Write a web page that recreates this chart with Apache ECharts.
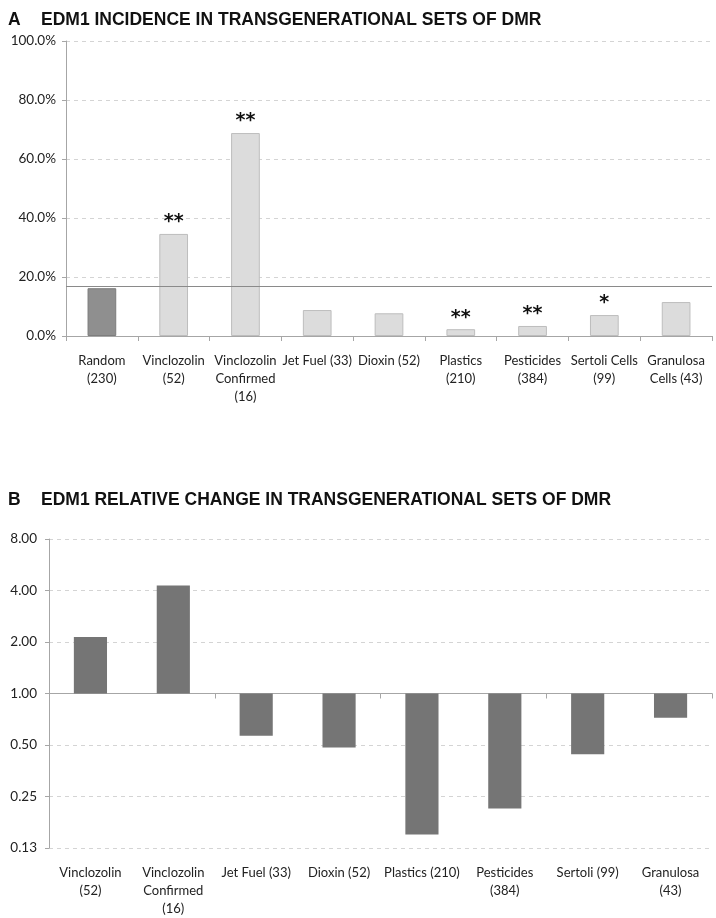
<!DOCTYPE html>
<html>
<head>
<meta charset="utf-8">
<script src="https://cdn.jsdelivr.net/npm/echarts@6/dist/echarts.min.js"></script>
<style>
html,body{margin:0;padding:0;background:#fff;}
#chart{width:716px;height:918px;}
</style>
</head>
<body>
<div id="chart"></div>
<script>
// ---- Panel A data ----
const catsA = ['Random\n(230)', 'Vinclozolin\n(52)', 'Vinclozolin\nConfirmed\n(16)', 'Jet Fuel (33)', 'Dioxin (52)', 'Plastics\n(210)', 'Pesticides\n(384)', 'Sertoli Cells\n(99)', 'Granulosa\nCells (43)'];
const incidenceA = [0.162, 0.346, 0.688, 0.088, 0.077, 0.023, 0.034, 0.071, 0.115];
const significanceA = ['', '**', '**', '', '', '**', '**', '*', ''];
const randomLevelA = 0.165;
const ticksA = [0, 0.2, 0.4, 0.6, 0.8, 1.0];

// ---- Panel B data ----
const catsB = ['Vinclozolin\n(52)', 'Vinclozolin\nConfirmed\n(16)', 'Jet Fuel (33)', 'Dioxin (52)', 'Plastics (210)', 'Pesticides\n(384)', 'Sertoli (99)', 'Granulosa\n(43)'];
const relChangeB = [2.14, 4.28, 0.567, 0.483, 0.150, 0.213, 0.442, 0.721];
const ticksB = [0.125, 0.25, 0.5, 1, 2, 4, 8];

const FONT = 'Lato';
const TITLE_FONT = 'Liberation Sans';

const chart = echarts.init(document.getElementById('chart'), null, {renderer: 'canvas'});

const labelStyle = {fontFamily: FONT, fontSize: 13, color: '#222', lineHeight: 18};
const titleStyle = {fontFamily: TITLE_FONT, fontWeight: 'bold', fontSize: 17.5, color: '#111'};

const option = {
  backgroundColor: '#fff',
  animation: false,
  title: [
    {text: 'A', left: 3, top: 6, textStyle: titleStyle},
    {text: 'EDM1 INCIDENCE IN TRANSGENERATIONAL SETS OF DMR', left: 36, top: 6, textStyle: titleStyle},
    {text: 'B', left: 3, top: 486, textStyle: titleStyle},
    {text: 'EDM1 RELATIVE CHANGE IN TRANSGENERATIONAL SETS OF DMR', left: 36, top: 486, textStyle: titleStyle}
  ],
  grid: [
    {left: 66, right: 4, top: 41, height: 295},
    {left: 49, right: 4, top: 539, height: 309}
  ],
  xAxis: [
    {
      id: 'xa', type: 'category', gridIndex: 0, data: catsA,
      axisLine: {show: true, lineStyle: {color: '#a6a6a6', width: 1}},
      axisTick: {show: true, length: 5, lineStyle: {color: '#a6a6a6'}},
      axisLabel: Object.assign({interval: 0, margin: 16}, labelStyle),
      splitLine: {show: false}
    },
    {
      id: 'xb', type: 'category', gridIndex: 1, data: catsB,
      axisLine: {show: false}, axisTick: {show: false},
      axisLabel: Object.assign({interval: 0, margin: 16}, labelStyle)
    },
    {
      id: 'xb1', type: 'category', gridIndex: 1, data: catsB, position: 'bottom', offset: 0,
      axisLine: {show: true, lineStyle: {color: '#a6a6a6', width: 1}},
      axisTick: {show: true, length: 5, lineStyle: {color: '#a6a6a6'}},
      axisLabel: {show: false}
    }
  ],
  yAxis: [
    {
      type: 'value', gridIndex: 0, min: ticksA[0], max: ticksA[ticksA.length - 1], interval: 0.2,
      axisLine: {show: true, lineStyle: {color: '#a6a6a6', width: 1}},
      axisTick: {show: true, length: 4, lineStyle: {color: '#a6a6a6'}},
      axisLabel: {fontFamily: FONT, fontSize: 13.5, color: '#222', margin: 10,
        formatter: v => (v * 100).toFixed(1) + '%'},
      splitLine: {show: true, lineStyle: {color: '#d4d4d4', type: [4, 4], width: 1}}
    },
    {
      type: 'log', logBase: 2, gridIndex: 1, min: ticksB[0], max: ticksB[ticksB.length - 1], interval: 1,
      axisLine: {show: true, lineStyle: {color: '#a6a6a6', width: 1}},
      axisTick: {show: true, length: 4, lineStyle: {color: '#a6a6a6'}},
      axisLabel: {fontFamily: FONT, fontSize: 13.5, color: '#222', margin: 12,
        formatter: v => Number(v).toFixed(2)},
      splitLine: {show: true, lineStyle: {color: '#d4d4d4', type: [4, 4], width: 1}}
    }
  ],
  series: [
    {
      type: 'bar', xAxisIndex: 0, yAxisIndex: 0, barWidth: '40%',
      data: incidenceA.map((v, i) => ({
        value: v,
        itemStyle: i === 0 ? {color: '#8f8f8f', borderColor: '#7d7d7d', borderWidth: 1}
                           : {color: '#dcdcdc', borderColor: '#bdbdbd', borderWidth: 1},
        label: {show: significanceA[i] !== '', formatter: significanceA[i]}
      })),
      label: {position: 'top', distance: 2, fontFamily: 'DejaVu Sans', fontWeight: 'bold', fontSize: 19, color: '#111'},
      markLine: {
        silent: true, symbol: 'none', label: {show: false},
        lineStyle: {color: '#8a8a8a', type: 'solid', width: 1},
        data: [{yAxis: randomLevelA}]
      }
    },
    {
      type: 'bar', xAxisIndex: 1, yAxisIndex: 1, barWidth: '40%',
      data: relChangeB,
      itemStyle: {color: '#757575'}
    }
  ]
};

chart.setOption(option);

// place the panel-B category axis line at the 1.00 level of the log axis
const yOne = chart.convertToPixel({yAxisIndex: 1}, 1);
const yMin = chart.convertToPixel({yAxisIndex: 1}, ticksB[0]);
chart.setOption({xAxis: [{id: 'xb1', offset: -(yMin - yOne)}]});
</script>
</body>
</html>
